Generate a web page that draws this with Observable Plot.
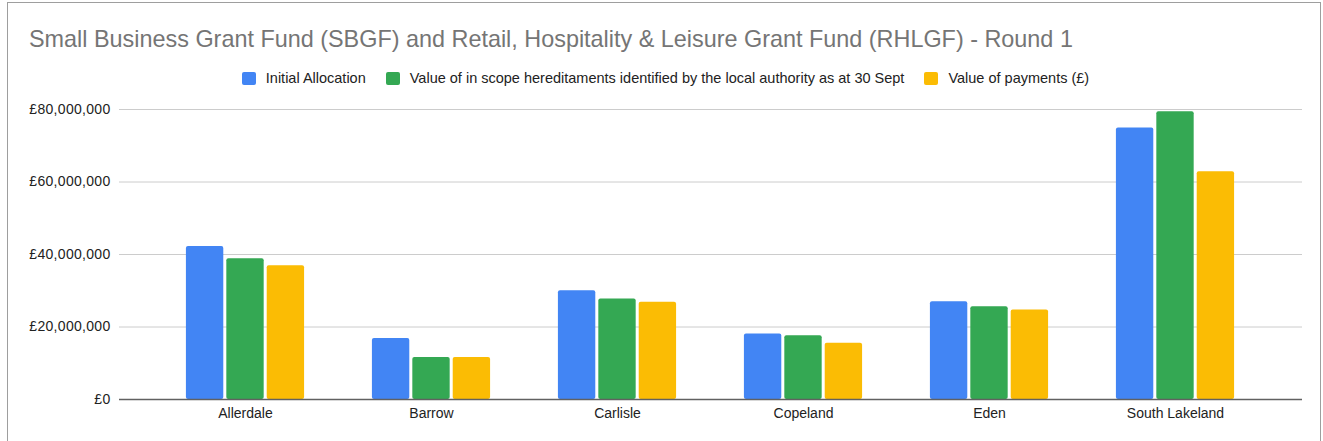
<!DOCTYPE html>
<html>
<head>
<meta charset="utf-8">
<script src="https://cdn.jsdelivr.net/npm/d3@7"></script>
<script src="https://cdn.jsdelivr.net/npm/@observablehq/plot@0.6"></script>
<style>
  html, body { margin: 0; padding: 0; background: #fff; }
  body { width: 1323px; height: 441px; position: relative; overflow: hidden; font-family: "Liberation Sans", Arial, sans-serif; }
  #card { position: absolute; left: 7px; top: 2px; width: 1314px; height: 480px; border: 1px solid #9e9e9e; box-sizing: border-box; }
  #title { position: absolute; left: 29px; top: 25px; font-size: 23.4px; line-height: 28px; color: #757575; white-space: nowrap; }
  #legend { position: absolute; left: 4px; width: 1323px; top: 70px; display: flex; justify-content: center; align-items: center; font-size: 14.5px; line-height: 16px; color: #222; white-space: nowrap; }
  .item { display: flex; align-items: center; margin: 0 10px; }
  .sw { width: 14px; height: 13px; border-radius: 2px; margin-right: 10px; }
  #chart { position: absolute; left: 0; top: 0; }
  #chart g[aria-label="y-axis tick label"] text { letter-spacing: 0.3px; }
</style>
</head>
<body>
<div id="card"></div>
<div id="chart"></div>
<div id="title"></div>
<div id="legend"></div>
<script>
const titleText = "Small Business Grant Fund (SBGF) and Retail, Hospitality & Leisure Grant Fund (RHLGF) - Round 1";
const categories = ["Allerdale", "Barrow", "Carlisle", "Copeland", "Eden", "South Lakeland"];
const seriesNames = [
  "Initial Allocation",
  "Value of in scope hereditaments identified by the local authority as at 30 Sept",
  "Value of payments (£)"
];
const seriesColors = ["#4285F4", "#34A853", "#FBBC04"];
const initialAllocation = [42200000, 16800000, 30000000, 18100000, 27000000, 74900000];
const inScopeValue      = [38800000, 11600000, 27700000, 17600000, 25600000, 79400000];
const paymentsValue     = [36900000, 11600000, 26800000, 15500000, 24700000, 62800000];
const yTicks = [0, 20000000, 40000000, 60000000, 80000000];

const seriesValues = [initialAllocation, inScopeValue, paymentsValue];

document.getElementById("title").textContent = titleText;
const legend = document.getElementById("legend");
seriesNames.forEach((name, i) => {
  const item = document.createElement("div");
  item.className = "item";
  const sw = document.createElement("div");
  sw.className = "sw";
  sw.style.background = seriesColors[i];
  const label = document.createElement("span");
  label.textContent = name;
  item.appendChild(sw);
  item.appendChild(label);
  legend.appendChild(item);
});

const xRange = [151, 1269];
const bw = (xRange[1] - xRange[0]) / categories.length;
const barW = 37.7, gap = 2.7;
const groupW = barW * 3 + gap * 2;
const outer = (bw - groupW) / 2;

const marks = [
  Plot.gridY(yTicks, { stroke: "#cccccc", strokeOpacity: 1, strokeWidth: 1 }),
];
seriesValues.forEach((vals, i) => {
  const data = categories.map((c, j) => ({ category: c, value: vals[j] }));
  const left = outer + i * (barW + gap);
  marks.push(Plot.barY(data, {
    x: "category", y: "value",
    fill: seriesColors[i],
    insetLeft: left,
    insetRight: bw - left - barW,
    rx: 2
  }));
});
marks.push(Plot.ruleY([0], { stroke: "#616161", strokeWidth: 1.5 }));
marks.push(Plot.axisY(yTicks, {
  tickSize: 0, tickPadding: 9,
  tickFormat: d => "£" + d3.format(",")(d),
  fontSize: 14, fill: "#222", label: null
}));
marks.push(Plot.axisX({
  tickSize: 0, tickPadding: 9,
  fontSize: 14, fill: "#222", label: null
}));

const chart = Plot.plot({
  width: 1323,
  height: 441,
  marginTop: 109,
  marginBottom: 42,
  marginLeft: 119,
  marginRight: 21,
  style: { fontFamily: "'Liberation Sans', Arial, sans-serif", background: "transparent" },
  x: { domain: categories, range: xRange, padding: 0 },
  y: { domain: [0, 80000000] },
  marks
});
document.getElementById("chart").appendChild(chart);
</script>
</body>
</html>
